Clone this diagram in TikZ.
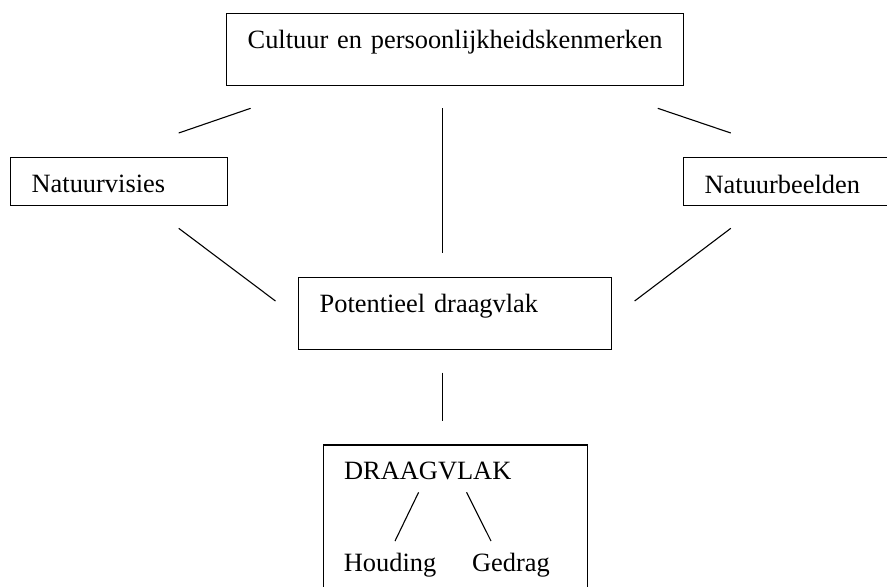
\documentclass[tikz,border=0pt]{standalone}
\usepackage{fontspec}
\setmainfont{Liberation Serif}
\newdimen\px
\px=0.5pt
\tikzset{
  kader/.style={draw, line width=0.65pt, anchor=north west, align=left,
    inner xsep=21\px, inner ysep=0pt},
  woord/.style={anchor=base west, inner sep=0pt},
}
\begin{document}
\begin{tikzpicture}[x=0.5pt, y=-0.5pt, font=\fontsize{13.2}{16}\selectfont, line width=0.55pt]
      \useasboundingbox (0,0) rectangle (887,586);
      \node[kader, text width=415\px, text height=35.3\px, text depth=37\px]
        (cultuur) at (226,12.7) {Cultuur en persoonlijkheidskenmerken};
      \node[kader, text width=175\px, text height=35.3\px, text depth=13\px]
        (visies) at (10,156.7) {Natuurvisies};
      \node[kader, text width=175\px, text height=36.3\px, text depth=11.5\px]
        (beelden) at (683,156.7) {Natuurbeelden};
      \node[kader, text width=271\px, text height=35.6\px, text depth=36.7\px]
        (potentieel) at (298,276.7) {Potentieel draagvlak};
      \node[kader, text width=222\px, text height=35\px, text depth=125\px]
        (draagvlak) at (322.5,444.3) {DRAAGVLAK};
      \node[woord] (houding) at (343.3,571.7) {Houding};
      \node[woord] (gedrag) at (471.5,571.7) {Gedrag};
      % losse verbindingslijnen
      \coordinate (a1) at (250.6,108.3);
      \coordinate (a2) at (178.7,133);
      \coordinate (b1) at (442.3,108.3);
      \coordinate (b2) at (442.3,253.3);
      \coordinate (c1) at (657.8,108.3);
      \coordinate (c2) at (730.8,133);
      \coordinate (d1) at (178.7,228.3);
      \coordinate (d2) at (275.5,301);
      \coordinate (e1) at (730.8,228.3);
      \coordinate (e2) at (634.6,301);
      \coordinate (f1) at (442.3,372.7);
      \coordinate (f2) at (442.3,421.3);
      \coordinate (g1) at (418.6,492.3);
      \coordinate (g2) at (395,541);
      \coordinate (h1) at (466.6,492.3);
      \coordinate (h2) at (491,541);
      \begin{scope}[-]
        \draw (a1) to (a2);
        \draw (b1) to (b2);
        \draw (c1) to (c2);
        \draw (d1) to (d2);
        \draw (e1) to (e2);
        \draw (f1) to (f2);
        \draw (g1) to (g2);
        \draw (h1) to (h2);
      \end{scope}
    \end{tikzpicture}
\end{document}
